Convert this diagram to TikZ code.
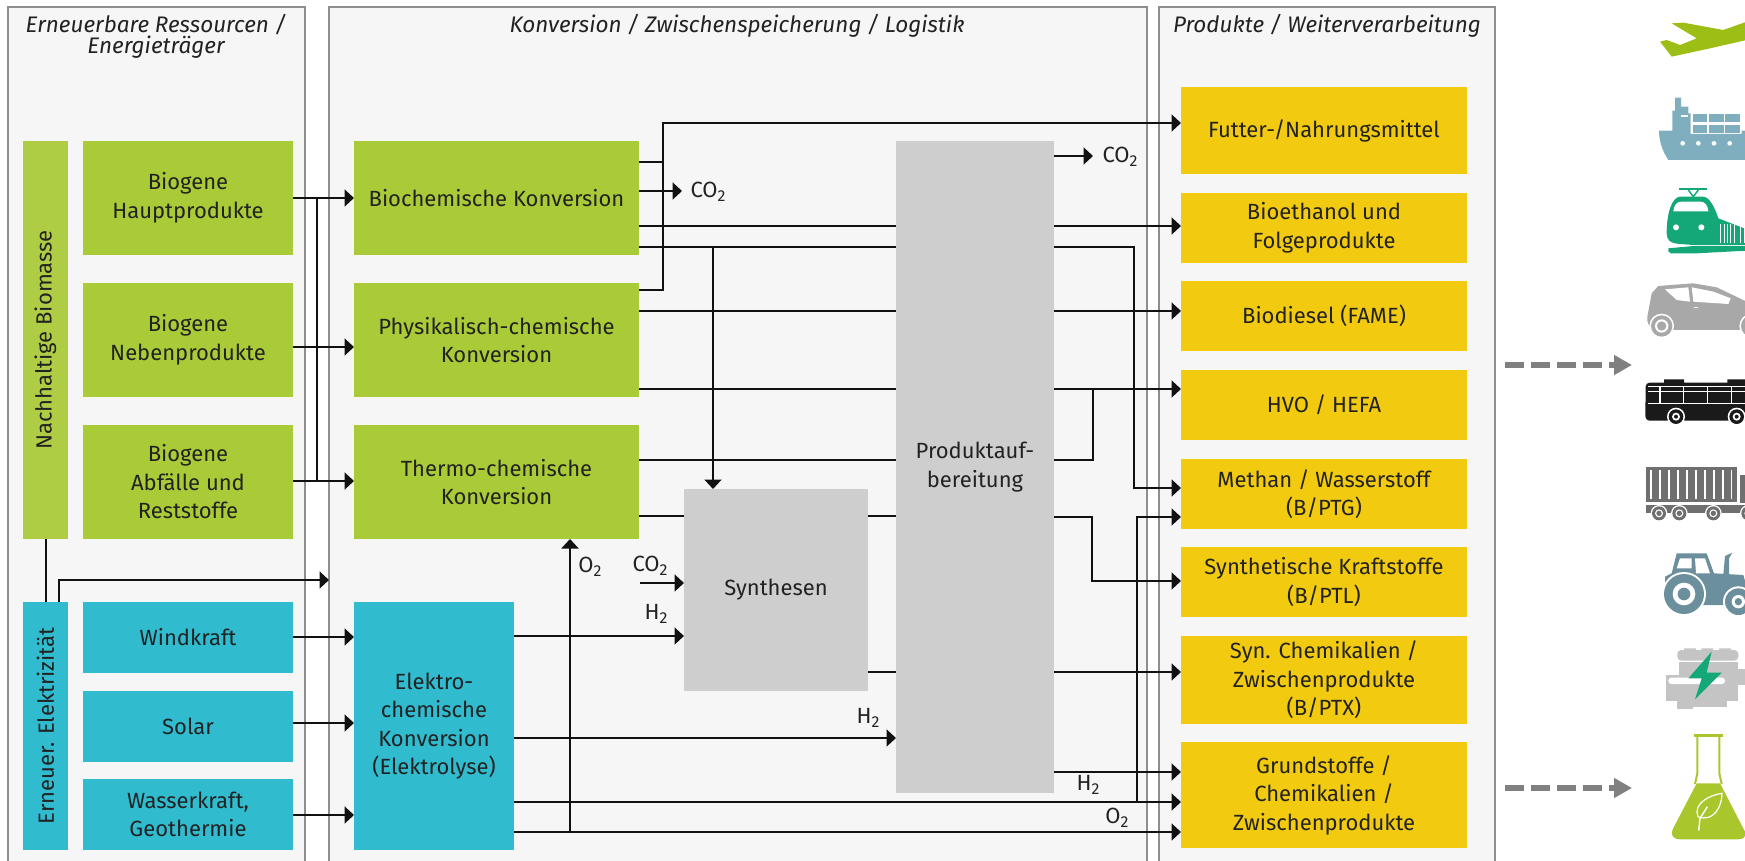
\documentclass[tikz,border=0pt]{standalone}
\usepackage{fontspec}
\setmainfont{Fira Sans}
\usetikzlibrary{arrows.meta}
\definecolor{panelfill}{HTML}{F6F6F6}
\definecolor{panelline}{HTML}{8E8E8E}
\definecolor{grn}{HTML}{A9CB37}
\definecolor{grnb}{HTML}{AECD44}
\definecolor{teal}{HTML}{30BBCF}
\definecolor{ylw}{HTML}{F2CB10}
\definecolor{gry}{HTML}{CECECE}
\definecolor{txt}{HTML}{222222}
\definecolor{lne}{HTML}{111111}
\definecolor{plane}{HTML}{9DBE14}
\definecolor{ship}{HTML}{7FAFBF}
\definecolor{train}{HTML}{14A878}
\definecolor{car}{HTML}{A8A8A8}
\definecolor{bus}{HTML}{1A1A1A}
\definecolor{truck}{HTML}{6F6F6F}
\definecolor{tractor}{HTML}{6B8F9C}
\definecolor{engine}{HTML}{C4C4C4}
\definecolor{flask}{HTML}{A9C72D}
\definecolor{dasharr}{HTML}{808080}
\newcommand{\lowtwo}{\raisebox{-0.3ex}{\scalebox{.72}{2}}}
\newcommand{\mybox}[7]{\node[#2,minimum width={(#5-#3)*1pt},minimum height={(#6-#4)*1pt}] (#1) at ({(#3+#5)/2},{(#4+#6)/2}) {#7};}
\tikzset{
  basebox/.style={inner sep=0pt,outer sep=0pt,align=center,text=txt,font=\fontsize{22}{28.5}\selectfont},
  panelbox/.style={basebox,fill=panelfill,draw=panelline,line width=2.5pt},
  grnbox/.style={basebox,fill=grn},
  tealbox/.style={basebox,fill=teal},
  ylwbox/.style={basebox,fill=ylw},
  grybox/.style={basebox,fill=gry},
  conn/.style={draw=lne,line width=2pt},
  arr/.style={conn,-{Triangle[length=9.5pt,width=17pt]}},
  dasharrow/.style={draw=dasharr,line width=6pt,dash pattern=on 19.3pt off 6.7pt,-{Triangle[length=18pt,width=19pt]}},
  title/.style={inner sep=0pt,align=center,text=txt,font=\fontsize{22.5}{21}\selectfont\itshape},
  lab/.style={inner sep=0pt,text=txt,font=\fontsize{22}{24}\selectfont},
}
\begin{document}
\begin{tikzpicture}[x=1pt,y=-1pt]
\useasboundingbox (0,0) rectangle (1745,861);
\clip (0,0) rectangle (1745,861);
% panels
\mybox{pa}{panelbox}{8}{7}{305}{890}{}
\mybox{pb}{panelbox}{329}{7}{1147}{890}{}
\mybox{pc}{panelbox}{1159}{7}{1495}{890}{}
\node[title] (ta) at (156,36) {Erneuerbare Ressourcen /\\Energieträger};
\node[title] (tb) at (737,26) {Konversion / Zwischenspeicherung / Logistik};
\node[title] (tc) at (1327,26) {Produkte / Weiterverarbeitung};
% left column
\node[basebox,fill=grnb,rotate=90,minimum width=398pt,minimum height=45pt] (nb) at (45.5,340) {Nachhaltige Biomasse};
\node[basebox,fill=teal,rotate=90,minimum width=248pt,minimum height=45pt] (ee) at (45.5,726) {Erneuer. Elektrizität};
\mybox{bh}{grnbox}{83}{141}{293}{255}{Biogene\\Hauptprodukte}
\mybox{bn}{grnbox}{83}{283}{293}{397}{Biogene\\Nebenprodukte}
\mybox{ba}{grnbox}{83}{425}{293}{539}{Biogene\\Abfälle und\\Reststoffe}
\mybox{wk}{tealbox}{83}{602}{293}{673}{Windkraft}
\mybox{so}{tealbox}{83}{691}{293}{762}{Solar}
\mybox{wg}{tealbox}{83}{779}{293}{850}{Wasserkraft,\\Geothermie}
% conversion
\mybox{bc}{grnbox}{354}{141}{639}{255}{Biochemische Konversion}
\mybox{pk}{grnbox}{354}{283}{639}{397}{Physikalisch-chemische\\Konversion}
\mybox{tk}{grnbox}{354}{425}{639}{539}{Thermo-chemische\\Konversion}
\mybox{ek}{tealbox}{354}{602}{514}{850}{Elektro-\\chemische\\Konversion\\(Elektrolyse)}
\mybox{sy}{grybox}{684}{489}{868}{691}{Synthesen}
\mybox{pa2}{grybox}{896}{141}{1054}{793}{Produktauf-\\bereitung}
% products
\mybox{fu}{ylwbox}{1181}{87}{1467}{174}{Futter-/Nahrungsmittel}
\mybox{be}{ylwbox}{1181}{193}{1467}{263}{Bioethanol und\\Folgeprodukte}
\mybox{bd}{ylwbox}{1181}{281}{1467}{351}{Biodiesel (FAME)}
\mybox{hv}{ylwbox}{1181}{370}{1467}{440}{HVO / HEFA}
\mybox{me}{ylwbox}{1181}{459}{1467}{529}{Methan / Wasserstoff\\(B/PTG)}
\mybox{sk}{ylwbox}{1181}{547}{1467}{617}{Synthetische Kraftstoffe\\(B/PTL)}
\mybox{sc}{ylwbox}{1181}{636}{1467}{724}{Syn. Chemikalien /\\Zwischenprodukte\\(B/PTX)}
\mybox{gr}{ylwbox}{1181}{742}{1467}{848}{Grundstoffe /\\Chemikalien /\\Zwischenprodukte}
% connectors left
\draw[arr] (bh.east |- 0,198) -- (bc.west |- 0,198);
\draw[arr] (bn.east |- 0,347) -- (pk.west |- 0,347);
\draw[arr] (ba.east |- 0,481) -- (tk.west |- 0,481);
\draw[conn] (317,198) -- (317,481);
\draw[arr] (wk.east |- 0,637) -- (ek.west |- 0,637);
\draw[arr] (so.east |- 0,723) -- (ek.west |- 0,723);
\draw[arr] (wg.east |- 0,815) -- (ek.west |- 0,815);
\draw[conn] (nb.west) -- (ee.east);
\draw[arr] (59,602) -- (59,580) -- (pb.west |- 0,580);
% upper-middle
\draw[arr] (bc.east |- 0,162) -- (663,162) -- (663,123) -- (fu.west |- 0,123);
\draw[conn] (pk.east |- 0,290) -- (663,290) -- (663,162);
\coordinate (co1) at (682,191);
\draw[arr] (bc.east |- 0,191) -- (co1);
\node[lab] (lco1) at (708,192) {CO\lowtwo};
\coordinate (co2) at (1093,156);
\draw[arr] (pa2.east |- 0,156) -- (co2);
\node[lab] (lco2) at (1120,157) {CO\lowtwo};
\draw[conn] (bc.east |- 0,226) -- (pa2.west |- 0,226);
\draw[arr] (pa2.east |- 0,226) -- (be.west |- 0,226);
\draw[conn] (bc.east |- 0,247) -- (pa2.west |- 0,247);
\draw[arr] (713,247) -- (713,489);
\draw[arr] (pa2.east |- 0,247) -- (1134,247) -- (1134,488) -- (me.west |- 0,488);
\draw[conn] (pk.east |- 0,311) -- (pa2.west |- 0,311);
\draw[arr] (pa2.east |- 0,311) -- (bd.west |- 0,311);
\draw[conn] (pk.east |- 0,389) -- (pa2.west |- 0,389);
\draw[arr] (pa2.east |- 0,389) -- (hv.west |- 0,389);
\draw[conn] (tk.east |- 0,460) -- (pa2.west |- 0,460);
\draw[conn] (pa2.east |- 0,460) -- (1093,460) -- (1093,389);
\draw[conn] (tk.east |- 0,516) -- (sy.west |- 0,516);
\draw[conn] (sy.east |- 0,516) -- (pa2.west |- 0,516);
\draw[arr] (pa2.east |- 0,517) -- (1092,517) -- (1092,581) -- (sk.west |- 0,581);
\coordinate (co3) at (640,583);
\draw[arr] (co3) -- (sy.west |- 0,583);
\node[lab] (lco3) at (650,566) {CO\lowtwo};
\node[lab] (lh1) at (656,614) {H\lowtwo};
\draw[arr] (ek.east |- 0,636) -- (sy.west |- 0,636);
\draw[conn] (sy.east |- 0,672) -- (pa2.west |- 0,672);
\draw[arr] (pa2.east |- 0,672) -- (sc.west |- 0,672);
\draw[arr] (ek.east |- 0,738) -- (pa2.west |- 0,738);
\node[lab] (lh2) at (868,718) {H\lowtwo};
\draw[arr] (pa2.east |- 0,772) -- (gr.west |- 0,772);
\node[lab] (lh3) at (1088,785) {H\lowtwo};
\draw[arr] (ek.east |- 0,802) -- (gr.west |- 0,802);
\draw[arr] (ek.east |- 0,832) -- (gr.west |- 0,832);
\node[lab] (lo1) at (1117,818) {O\lowtwo};
\draw[arr] (570,832) -- (570,539);
\node[lab] (lo2) at (590,567) {O\lowtwo};
\draw[arr] (1137,802) -- (1137,517) -- (me.west |- 0,517);
% dashed arrows
\coordinate (da) at (1505,365);\coordinate (db) at (1632,365);
\coordinate (dc) at (1505,788);\coordinate (dd) at (1632,788);
\draw[dasharrow] (da) -- (db);
\draw[dasharrow] (dc) -- (dd);
% icons upper (coordinates of zoom, 3x)
\begin{scope}[shift={(1480,0)},x=0.33333pt,y=-0.33333pt]
% plane
\fill[plane] (575,70) -- (610,68) -- (730,90) -- (800,65) -- (800,120) -- (690,145) -- (575,170) -- (540,125) -- (560,120) -- (600,135) -- (650,115) -- cycle;
% ship
\fill[ship] (537,392) -- (577,392) -- (577,332) -- (585,332) -- (585,293) -- (603,293) -- (603,320) -- (625,320) -- (625,340) -- (632,340) -- (632,402) -- (785,402) -- (785,392) -- (800,392) -- (800,480) -- (565,480) .. controls (545,450) and (537,420) .. (537,392) -- cycle;
\foreach \xa in {638,687,735}{\foreach \ya in {342,374}{\fill[ship] (\xa,\ya) rectangle ++(44,25);}}
\fill[white] (603,345) rectangle (624,352);
\foreach \xa in {608,655,702,749}{\fill[white] (\xa,430) circle[radius=7];}
% train
\draw[train,line width=2pt] (598,568) -- (682,568);
\draw[train,line width=1.5pt] (625,570) -- (640,590) -- (655,570);
\fill[train] (560,700) .. controls (560,640) and (575,592) .. (600,590) -- (670,590) .. controls (690,592) and (705,625) .. (715,655) -- (800,688) -- (800,735) -- (640,735) -- (600,732) .. controls (570,730) and (560,720) .. (560,700) -- cycle;
\fill[train] (565,745) -- (640,738) -- (800,738) -- (800,752) -- (650,760) -- (572,760) .. controls (565,758) and (563,750) .. (565,745) -- cycle;
\fill[white] (580,634) .. controls (582,615) and (590,605) .. (605,605) -- (660,605) .. controls (675,605) and (683,615) .. (685,634) -- cycle;
\fill[white] (588,682) circle[radius=9];
\fill[white] (664,682) circle[radius=9];
\foreach \xa in {722,732,742,752,762,782,792}{\draw[white,line width=1pt] (\xa,672) -- (\xa,730);}
% car
\fill[car] (502,950) -- (515,880) -- (535,858) -- (640,850) -- (710,862) -- (800,905) -- (800,990) -- (570,990) -- (515,985) .. controls (505,975) and (500,965) .. (502,950) -- cycle;
\fill[white] (555,868) -- (625,862) -- (630,905) -- (590,900) -- cycle;
\fill[white] (635,862) -- (700,875) -- (752,895) -- (745,912) -- (640,905) -- cycle;
\fill[white] (643,920) rectangle (655,924);
\fill[white] (545,978) circle[radius=37];
\fill[car] (545,978) circle[radius=32];
\fill[white] (545,978) circle[radius=20];
\fill[car] (545,978) circle[radius=14];
\fill[white] (815,978) circle[radius=37];
\fill[car] (815,978) circle[radius=32];
% bus
\fill[bus] (552,1148) -- (552,1138) -- (612,1138) -- (612,1148) -- (742,1148) -- (742,1138) -- (800,1138) -- (800,1262) -- (510,1262) .. controls (500,1262) and (496,1255) .. (496,1245) -- (497,1160) .. controls (497,1152) and (502,1148) .. (510,1148) -- cycle;
\draw[white,line width=1.2pt] (505,1160) -- (800,1160);
\draw[white,line width=1pt] (505,1175) -- (800,1175);
\draw[white,line width=1.4pt] (505,1210) -- (800,1210);
\foreach \xa in {540,610,682,755}{\draw[white,line width=1.2pt] (\xa,1160) -- (\xa,1210);}
\foreach \xa in {588,770}{
 \fill[white] (\xa,1250) circle[radius=27];
 \fill[bus] (\xa,1250) circle[radius=22];
 \fill[white] (\xa,1250) circle[radius=12];
 \fill[bus] (\xa,1250) circle[radius=6];}
\end{scope}
% icons lower
\begin{scope}[shift={(1480,430)},x=0.33333pt,y=-0.33333pt]
% truck
\fill[truck] (497,112) rectangle (770,215);
\foreach \xa in {513,540,567,594,621,648,675,702,729,755}{\fill[white] (\xa-2,120) rectangle (\xa+2,207);}
\fill[truck] (497,225) rectangle (800,250);
\fill[truck] (780,135) rectangle (800,218);
\foreach \xa in {537,598,700,805}{
 \fill[white] (\xa,250) circle[radius=25];
 \fill[truck] (\xa,250) circle[radius=21];
 \fill[white] (\xa,250) circle[radius=12];
 \fill[truck] (\xa,250) circle[radius=8];}
% tractor
\fill[tractor] (575,430) -- (590,370) -- (680,370) -- (702,430) -- (790,435) -- (800,470) -- (800,525) -- (660,525) -- (600,440) -- (555,460) -- (555,440) -- cycle;
\fill[white] (590,415) -- (600,385) -- (635,385) -- (635,415) -- cycle;
\fill[white] (645,385) -- (675,385) -- (690,430) -- (648,430) -- cycle;
\fill[tractor] (730,432) -- (735,378) -- (757,368) -- (747,385) -- (747,432) -- cycle;
\fill[white] (612,492) circle[radius=66];
\fill[tractor] (612,492) circle[radius=60];
\fill[white] (612,492) circle[radius=34];
\fill[tractor] (612,492) circle[radius=19];
\fill[white] (775,515) circle[radius=46];
\fill[tractor] (775,515) circle[radius=40];
\fill[white] (775,515) circle[radius=20];
\fill[tractor] (775,515) circle[radius=11];
% engine
\foreach \xa in {630,682,735}{\fill[engine] (\xa-18,655) arc[start angle=180,end angle=0,radius=18] -- cycle;}
\fill[engine,rounded corners=4pt] (592,660) rectangle (775,692);
\fill[engine] (596,696) rectangle (775,812);
\fill[engine] (775,718) rectangle (800,765);
\fill[engine] (557,735) rectangle (600,812);
\fill[engine] (592,812) rectangle (640,838);
\fill[engine] (640,812) rectangle (740,832);
\fill[white,rounded corners=3pt] (565,743) rectangle (735,762);
\fill[train] (695,665) -- (625,745) -- (665,745) -- (645,808) -- (725,728) -- (680,728) -- cycle;
% flask
\draw[flask,line width=2.6pt] (641,917) -- (730,917);
\draw[flask,line width=2pt] (652,917) -- (652,1030) -- (645,1062);
\draw[flask,line width=2pt] (718,917) -- (718,1030) -- (725,1062);
\fill[flask] (650,1060) -- (720,1060) -- (795,1205) .. controls (800,1220) and (790,1228) .. (775,1228) -- (600,1228) .. controls (580,1228) and (570,1215) .. (578,1198) -- cycle;
\draw[white,line width=1.2pt] (654,1160) .. controls (638,1120) and (690,1095) .. (726,1090) .. controls (726,1130) and (700,1178) .. (654,1160) -- cycle;
\draw[white,line width=1.4pt] (656,1202) -- (660,1165) -- (682,1130);
\end{scope}
\end{tikzpicture}
\end{document}
